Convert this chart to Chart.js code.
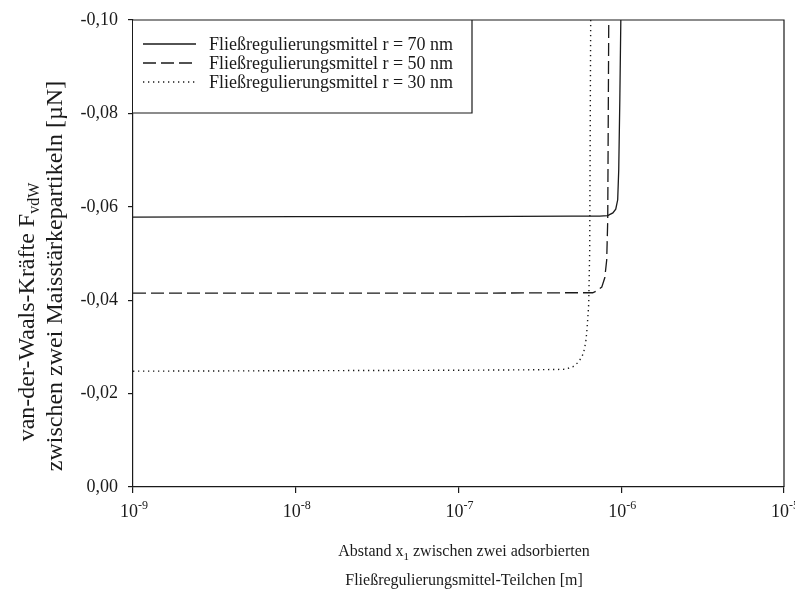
<!DOCTYPE html>
<html>
<head>
<meta charset="utf-8">
<script src="https://cdn.jsdelivr.net/npm/chart.js@4/dist/chart.umd.min.js"></script>
<style>
  html, body { margin: 0; padding: 0; background: #fff; }
  #wrap { width: 795px; height: 598px; }
</style>
</head>
<body>
<div id="wrap"><canvas id="c" width="795" height="598"></canvas></div>
<script>
// ---- data ----
const seriesLabels = [
  'Fließregulierungsmittel r = 70 nm',
  'Fließregulierungsmittel r = 50 nm',
  'Fließregulierungsmittel r = 30 nm'
];
const x70 = [1e-9, 1e-8, 1e-7, 5e-7, 7.38e-7, 8.26e-7, 8.88e-7, 9.25e-7, 9.51e-7, 9.65e-7, 9.80e-7, 9.94e-7];
const y70 = [-0.0578, -0.0579, -0.0579, -0.0580, -0.0580, -0.0581, -0.0587, -0.0595, -0.0615, -0.0679, -0.0829, -0.1000];
const x50 = [1e-9, 1e-8, 1e-7, 5e-7, 6.68e-7, 7.06e-7, 7.59e-7, 7.92e-7, 8.14e-7, 8.26e-7, 8.38e-7];
const y50 = [-0.0415, -0.0415, -0.0415, -0.0416, -0.0416, -0.0420, -0.0428, -0.0448, -0.0486, -0.0572, -0.1000];
const x30 = [1e-9, 1e-8, 1e-7, 3e-7, 4.49e-7, 5.03e-7, 5.40e-7, 5.72e-7, 5.88e-7, 6.05e-7, 6.14e-7, 6.22e-7, 6.31e-7, 6.40e-7, 6.49e-7];
const y30 = [-0.0248, -0.0249, -0.0250, -0.0251, -0.0252, -0.0257, -0.0266, -0.0278, -0.0289, -0.0310, -0.0332, -0.0358, -0.0392, -0.0507, -0.1000];

const xTickValues = [1e-9, 1e-8, 1e-7, 1e-6, 1e-5];
const xTickBase = '10';
const xTickExponents = ['-9', '-8', '-7', '-6', '-5'];
const yTickValues = [-0.10, -0.08, -0.06, -0.04, -0.02, 0.00];
const yTickLabels = ['-0,10', '-0,08', '-0,06', '-0,04', '-0,02', '0,00'];

const yTitle1 = 'van-der-Waals-Kräfte F';
const yTitle1Sub = 'vdW';
const yTitle2 = 'zwischen zwei Maisstärkepartikeln [µN]';
const xTitle1a = 'Abstand x';
const xTitle1Sub = '1';
const xTitle1b = ' zwischen zwei adsorbierten';
const xTitle2 = 'Fließregulierungsmittel-Teilchen [m]';

// ---- build ----
const FONT = '"Liberation Serif", "Times New Roman", serif';
const INK = '#1a1a1a';
const dashes = [[], [13, 5], [1.3, 3.7]];
const xs = [x70, x50, x30];
const ys = [y70, y50, y30];

const datasets = seriesLabels.map((lab, i) => ({
  label: lab,
  data: xs[i].map((x, j) => ({ x: x, y: ys[i][j] })),
  borderColor: INK,
  borderWidth: i === 2 ? 1.4 : 1.3,
  borderDash: dashes[i],
  pointRadius: 0,
  fill: false,
  tension: 0
}));

const decor = {
  id: 'decor',
  afterDatasetsDraw(chart) {
    const ctx = chart.ctx, a = chart.chartArea;
    ctx.save();
    // legend box
    const bx = a.left, by = a.top, bw = 472 - a.left, bh = 113 - a.top;
    ctx.fillStyle = '#fff';
    ctx.fillRect(bx, by, bw, bh);
    ctx.strokeStyle = INK; ctx.lineWidth = 1.2;
    ctx.beginPath(); ctx.moveTo(bx + bw, by); ctx.lineTo(bx + bw, by + bh); ctx.lineTo(bx, by + bh); ctx.stroke();
    const rows = [44, 63, 82];
    ctx.font = '18px ' + FONT;
    ctx.textBaseline = 'middle';
    ctx.textAlign = 'left';
    chart.data.datasets.forEach((ds, i) => {
      ctx.strokeStyle = INK;
      ctx.lineWidth = ds.borderWidth;
      ctx.setLineDash(ds.borderDash);
      ctx.beginPath(); ctx.moveTo(143, rows[i]); ctx.lineTo(196, rows[i]); ctx.stroke();
      ctx.setLineDash([]);
      ctx.fillStyle = INK;
      ctx.fillText(ds.label, 209, rows[i] + 1);
    });
    ctx.restore();
  },
  afterDraw(chart) {
    const ctx = chart.ctx, a = chart.chartArea;
    ctx.save();
    ctx.strokeStyle = INK; ctx.lineWidth = 1.2;
    ctx.beginPath(); ctx.moveTo(a.left, a.top); ctx.lineTo(a.right, a.top); ctx.lineTo(a.right, a.bottom); ctx.stroke();
    ctx.fillStyle = INK;
    ctx.textBaseline = 'alphabetic';
    ctx.textAlign = 'left';
    // x tick labels: 10 with superscript exponent
    const xs = chart.scales.x;
    xTickValues.forEach((v, i) => {
      const px = xs.getPixelForValue(v);
      ctx.font = '18px ' + FONT;
      const wb = ctx.measureText(xTickBase).width;
      ctx.font = '12px ' + FONT;
      const we = ctx.measureText(xTickExponents[i]).width;
      const sx = px - (wb + we) / 2 + 1;
      ctx.font = '18px ' + FONT; ctx.fillText(xTickBase, sx, 517);
      ctx.font = '12px ' + FONT; ctx.fillText(xTickExponents[i], sx + wb, 509);
    });
    // x title
    const cx = 464;
    ctx.font = '16px ' + FONT;
    const wA = ctx.measureText(xTitle1a).width, wB = ctx.measureText(xTitle1b).width;
    ctx.font = '11px ' + FONT;
    const wS = ctx.measureText(xTitle1Sub).width;
    let sx = cx - (wA + wS + wB) / 2;
    ctx.font = '16px ' + FONT;
    ctx.fillText(xTitle1a, sx, 556);
    ctx.font = '11px ' + FONT; ctx.fillText(xTitle1Sub, sx + wA, 560);
    ctx.font = '16px ' + FONT; ctx.fillText(xTitle1b, sx + wA + wS, 556);
    ctx.textAlign = 'center';
    ctx.fillText(xTitle2, cx, 585);
    // y title (rotated)
    ctx.save();
    ctx.translate(34, 312);
    ctx.rotate(-Math.PI / 2);
    ctx.font = '24px ' + FONT;
    const w1 = ctx.measureText(yTitle1).width;
    ctx.font = '16px ' + FONT;
    const w1s = ctx.measureText(yTitle1Sub).width;
    ctx.textAlign = 'left';
    const s1 = -(w1 + w1s) / 2;
    ctx.font = '24px ' + FONT; ctx.fillText(yTitle1, s1, 0);
    ctx.font = '16px ' + FONT; ctx.fillText(yTitle1Sub, s1 + w1, 5);
    ctx.restore();
    ctx.save();
    ctx.translate(62, 276);
    ctx.rotate(-Math.PI / 2);
    ctx.font = '24px ' + FONT;
    ctx.textAlign = 'center';
    ctx.fillText(yTitle2, 0, 0);
    ctx.restore();
    ctx.restore();
  }
};

new Chart(document.getElementById('c'), {
  type: 'line',
  data: { datasets: datasets },
  options: {
    responsive: false,
    animation: false,
    events: [],
    layout: { padding: { top: 20, right: 11, left: 0, bottom: 0 } },
    plugins: { legend: { display: false }, tooltip: { enabled: false } },
    scales: {
      x: {
        type: 'logarithmic',
        min: 1e-9, max: 1e-5,
        afterBuildTicks: (s) => { s.ticks = xTickValues.map(v => ({ value: v, major: true })); },
        afterFit: (s) => { s.height = 111; s.paddingRight = 0; s.paddingLeft = 0; },
        border: { display: true, color: INK, width: 1.2 },
        grid: { display: true, drawOnChartArea: false, drawTicks: true, tickLength: 6, color: INK, lineWidth: 1.2 },
        ticks: { display: false, autoSkip: false, maxRotation: 0 }
      },
      y: {
        type: 'linear',
        min: -0.10, max: 0,
        reverse: true,
        afterBuildTicks: (s) => { s.ticks = yTickValues.map(v => ({ value: v })); },
        afterFit: (s) => { s.width = 133; s.paddingTop = 0; s.paddingBottom = 0; },
        border: { display: true, color: INK, width: 1.2 },
        grid: { display: true, drawOnChartArea: false, drawTicks: true, tickLength: 5, color: INK, lineWidth: 1.2 },
        ticks: {
          padding: 10, color: INK,
          font: { family: FONT, size: 18 },
          callback: (v) => { const i = yTickValues.findIndex(t => Math.abs(t - v) < 1e-9); return i >= 0 ? yTickLabels[i] : ''; }
        }
      }
    }
  },
  plugins: [decor]
});
</script>
</body>
</html>
